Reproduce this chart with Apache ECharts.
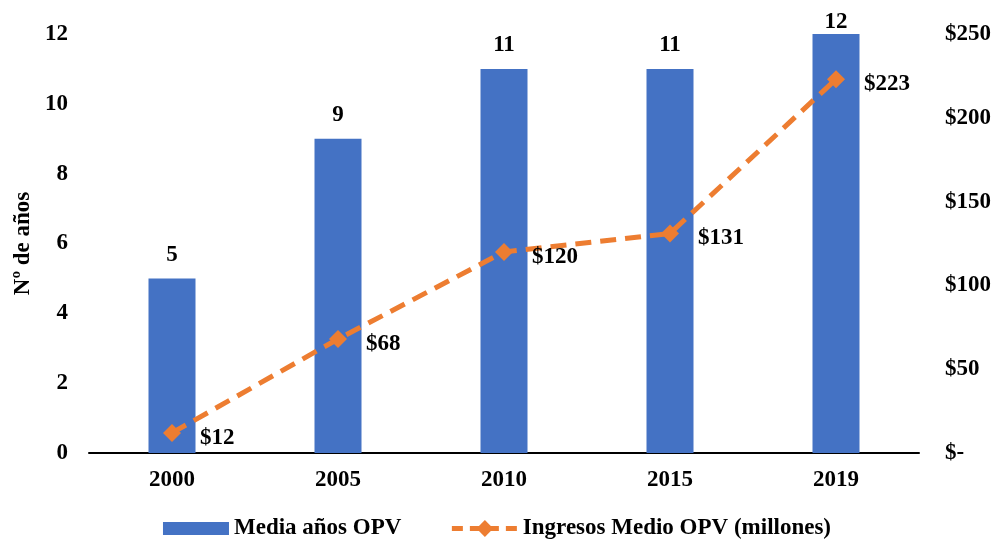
<!DOCTYPE html>
<html>
<head>
<meta charset="utf-8">
<script src="https://cdn.jsdelivr.net/npm/echarts@6/dist/echarts.min.js"></script>
<style>
  html, body { margin: 0; padding: 0; background: #fff; }
  #chart { width: 994px; height: 540px; }
</style>
</head>
<body>
<div id="chart"></div>
<script>
var years = ['2000', '2005', '2010', '2015', '2019'];
var mediaAnos = [5, 9, 11, 11, 12];
var ingresos = [12, 68, 120, 131, 223];

var font = '"Liberation Serif", "Times New Roman", serif';
var txt = { fontFamily: font, fontWeight: 'bold', fontSize: 23, color: '#000' };

var orange = '#ED7D31';
var blue = '#4472C4';

// the top bar label sits lower, as in the original
var barData = mediaAnos.map(function (v, i) {
    if (i === mediaAnos.length - 1) return { value: v, label: { distance: 0 } };
    return v;
});

var myChart = echarts.init(document.getElementById('chart'));
var option = {
    animation: false,
    textStyle: { fontFamily: font },
    grid: { left: 89, right: 75, top: 34, bottom: 87, outerBoundsMode: 'none' },
    legend: {
        bottom: -5,
        left: 'center',
        itemGap: 48,
        itemWidth: 66,
        itemHeight: 21,
        textStyle: txt,
        data: [
            // thin rect inside a taller box so the line's diamond can be bigger
            { name: 'Media años OPV', icon: 'path://M0,0L0.01,0M0,4H66V17H0ZM0,21L0.01,21', itemStyle: { color: blue } },
            {
                name: 'Ingresos Medio OPV (millones)',
                lineStyle: { color: orange, width: 5, type: [11, 7] },
                itemStyle: { color: orange }
            }
        ]
    },
    xAxis: {
        type: 'category',
        data: years,
        axisLine: { lineStyle: { color: '#000', width: 2 } },
        axisTick: { show: false },
        axisLabel: Object.assign({ margin: 16 }, txt)
    },
    yAxis: [{
        type: 'value',
        min: 0,
        max: 12,
        interval: 2,
        name: 'Nº de años',
        nameLocation: 'middle',
        nameRotate: 90,
        nameGap: 54,
        nameTextStyle: txt,
        splitLine: { show: false },
        axisLine: { show: false },
        axisTick: { show: false },
        axisLabel: Object.assign({ margin: 21 }, txt)
    }, {
        type: 'value',
        min: 0,
        max: 250,
        interval: 50,
        position: 'right',
        splitLine: { show: false },
        axisLine: { show: false },
        axisTick: { show: false },
        axisLabel: Object.assign({
            margin: 26,
            formatter: function (v) { return v === 0 ? '$-' : '$' + v; }
        }, txt)
    }],
    series: [{
        name: 'Media años OPV',
        type: 'bar',
        data: barData,
        barWidth: 47,
        itemStyle: { color: blue },
        label: Object.assign({ show: true, position: 'top', distance: 12 }, txt)
    }, {
        name: 'Ingresos Medio OPV (millones)',
        type: 'line',
        yAxisIndex: 1,
        data: ingresos,
        symbol: 'diamond',
        symbolSize: 18,
        lineStyle: { color: orange, width: 5, type: [16, 9] },
        itemStyle: { color: orange },
        label: Object.assign({
            show: true,
            position: 'right',
            distance: 19,
            offset: [0, 5],
            formatter: function (p) { return '$' + p.value; }
        }, txt)
    }]
};
myChart.setOption(option);
</script>
</body>
</html>
